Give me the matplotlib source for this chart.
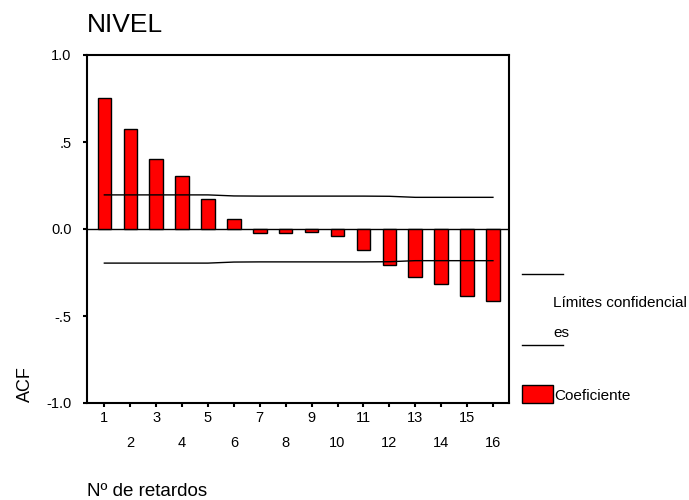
import matplotlib
matplotlib.use("Agg")
import matplotlib.pyplot as plt
from matplotlib.patches import Rectangle
from matplotlib.lines import Line2D

plt.rcParams['font.family'] = ['Liberation Sans', 'DejaVu Sans']

lags = list(range(1, 17))
acf = [0.755, 0.575, 0.402, 0.306, 0.172, 0.056, -0.023, -0.023,
       -0.015, -0.038, -0.119, -0.205, -0.276, -0.316, -0.385, -0.416]
upper = [0.196, 0.196, 0.196, 0.196, 0.196, 0.190, 0.189, 0.189,
         0.189, 0.189, 0.189, 0.188, 0.182, 0.182, 0.182, 0.182]
lower = [-u for u in upper]
yticks = [1.0, 0.5, 0.0, -0.5, -1.0]
yticklabels = ['1.0', '.5', '0.0', '-.5', '-1.0']

W, H = 689, 500
fig = plt.figure(figsize=(W/100, H/100), dpi=100)
ax = fig.add_axes([87/W, 1-403/H, (509-87)/W, (403-55)/H])

ax.bar(lags, acf, width=0.52, color='#ff0000', edgecolor='black', linewidth=1.0, zorder=2)
ax.plot(lags, upper, color='black', linewidth=1.0, zorder=3)
ax.plot(lags, lower, color='black', linewidth=1.0, zorder=3)
ax.axhline(0, color='black', linewidth=1.0, zorder=1)

ax.set_xlim(0.33, 16.62)
ax.set_ylim(-1.0, 1.0)
ax.set_yticks(yticks)
ax.set_yticklabels(yticklabels, fontsize=10.5)

odd = [l for l in lags if l % 2 == 1]
even = [l for l in lags if l % 2 == 0]
ax.set_xticks(odd)
ax.set_xticklabels([str(l) for l in odd], fontsize=10.5)
ax.set_xticks(even, minor=True)
ax.set_xticklabels([str(l) for l in even], minor=True, fontsize=10.5)
ax.tick_params(axis='both', which='both', direction='out', length=3, width=1.5)
ax.tick_params(axis='x', which='major', pad=2.5)
ax.tick_params(axis='x', which='minor', pad=20.5)
ax.tick_params(axis='y', pad=8)
for s in ax.spines.values():
    s.set_linewidth(1.5)

fig.text(87/W, 1-32.5/H, 'NIVEL', fontsize=19, va='baseline', ha='left')
fig.text(25/W, 1-402/H, 'ACF', fontsize=13, rotation=90, va='bottom', ha='center')
fig.text(87/W, 1-496/H, 'Nº de retardos', fontsize=13.5, va='baseline', ha='left')

# legend
fig.add_artist(Line2D([522/W, 563/W], [1-274/H, 1-274/H], color='black', linewidth=1.0))
fig.add_artist(Line2D([522/W, 563/W], [1-345/H, 1-345/H], color='black', linewidth=1.0))
fig.text(553/W, 1-307/H, 'Límites confidencial', fontsize=11, va='baseline', ha='left')
fig.text(553/W, 1-337/H, 'es', fontsize=11, va='baseline', ha='left')
fig.add_artist(Rectangle((522/W, 1-403/H), 31/W, 18/H, facecolor='#ff0000',
                         edgecolor='black', linewidth=1.0, transform=fig.transFigure))
fig.text(554/W, 1-400/H, 'Coeficiente', fontsize=11, va='baseline', ha='left')

fig.savefig('out.png', dpi=100)
